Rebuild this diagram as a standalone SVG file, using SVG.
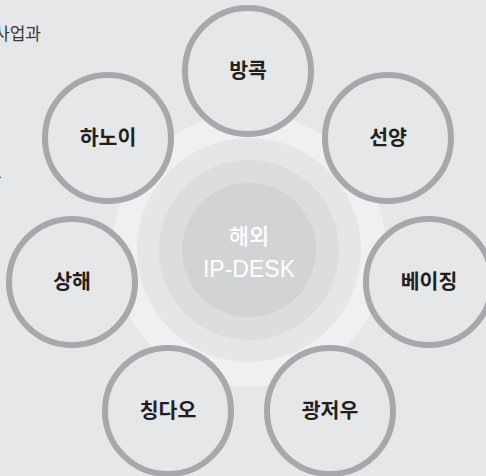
<svg xmlns="http://www.w3.org/2000/svg" width="486" height="476" viewBox="0 0 486 476">
  <style>
    .node circle { fill: #e6e7e9; stroke: #a7a8ab; stroke-width: 6; }
    .node text { font-family: "Noto Sans CJK KR", "Noto Sans", sans-serif; font-size: 20.5px; font-weight: 700; fill: #231f20; text-anchor: middle; }
    .side { font-family: "Noto Sans CJK KR", "Noto Sans", sans-serif; font-size: 17px; fill: #3a3a3a; }
    .center { font-family: "Noto Sans CJK KR", "Liberation Sans", sans-serif; fill: #ffffff; text-anchor: middle; }
  </style>
  <rect x="0" y="0" width="486" height="476" fill="#e6e7e9"/>
  <text class="side" x="-6" y="40">사업과</text>
  <text class="side" x="-14" y="178">요</text>
  <g id="hub">
    <circle cx="249" cy="250" r="137" fill="#eff0f2"/>
    <circle cx="249" cy="250" r="112" fill="#e5e6e8"/>
    <circle cx="249" cy="250" r="90" fill="#dcdddf"/>
    <circle cx="249" cy="250" r="67" fill="#d2d3d5"/>
    <text class="center" x="249" y="244" font-size="22" font-weight="500">해외</text>
    <text class="center" x="249" y="277" font-size="23" style="font-family:'Liberation Sans', sans-serif">IP-DESK</text>
  </g>
  <g id="connectors"></g>
  <g id="bangkok" class="node"><circle cx="248" cy="71" r="63"/><text x="248" y="78">방콕</text></g>
  <g id="shenyang" class="node"><circle cx="388" cy="138" r="63"/><text x="388" y="145">선양</text></g>
  <g id="beijing" class="node"><circle cx="429" cy="282" r="63"/><text x="429" y="289">베이징</text></g>
  <g id="guangzhou" class="node"><circle cx="330" cy="411" r="63"/><text x="330" y="418">광저우</text></g>
  <g id="qingdao" class="node"><circle cx="168" cy="411" r="63"/><text x="168" y="418">칭다오</text></g>
  <g id="shanghai" class="node"><circle cx="72" cy="282" r="63"/><text x="72" y="289">상해</text></g>
  <g id="hanoi" class="node"><circle cx="108" cy="138" r="63"/><text x="108" y="145">하노이</text></g>
</svg>
